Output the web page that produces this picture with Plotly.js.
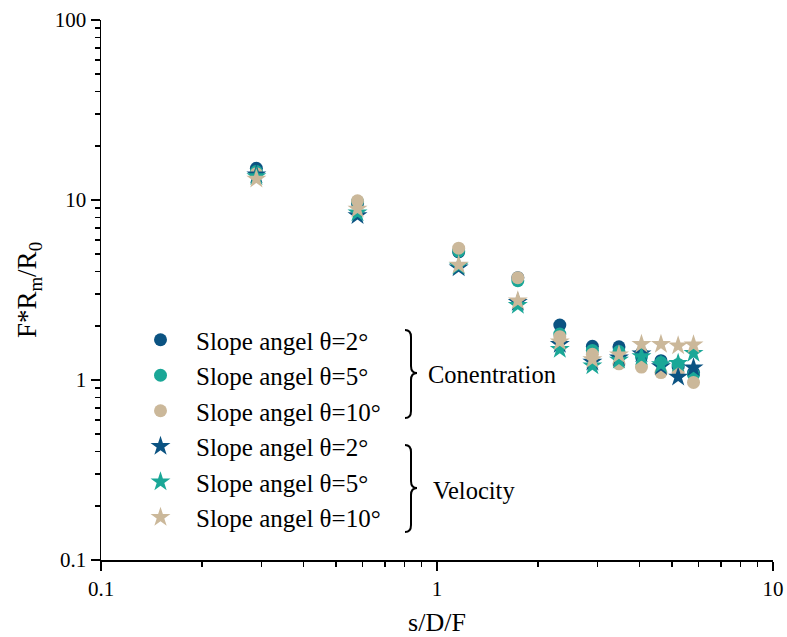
<!DOCTYPE html>
<html>
<head>
<meta charset="utf-8">
<script src="https://cdn.plot.ly/plotly-3.0.1.min.js"></script>
<style>html,body{margin:0;padding:0;background:#fff;}#chart{width:787px;height:637px;}</style>
</head>
<body>
<div id="chart"></div>
<script>
// s/D/F values
var xVals = [0.29, 0.58, 1.16, 1.74, 2.32, 2.90, 3.48, 4.06, 4.64, 5.22, 5.80];
// Concentration (circles)
var concTheta2  = [15.0, 9.6, 5.15, 3.70, 2.02, 1.54, 1.53, 1.41, 1.28, 1.18, 1.10];
var concTheta5  = [14.4, 9.8, 5.20, 3.56, 1.80, 1.46, 1.44, 1.34, 1.25, 1.22, 1.07];
var concTheta10 = [14.0, 9.9, 5.40, 3.70, 1.74, 1.39, 1.23, 1.18, 1.10, 1.10, 0.97];
// Velocity (stars)
var velTheta2  = [13.8, 8.2, 4.20, 2.70, 1.58, 1.26, 1.33, 1.40, 1.19, 1.04, 1.17];
var velTheta5  = [13.5, 8.5, 4.30, 2.60, 1.48, 1.20, 1.29, 1.35, 1.22, 1.24, 1.41];
var velTheta10 = [13.1, 8.9, 4.35, 2.76, 1.63, 1.30, 1.38, 1.58, 1.58, 1.55, 1.57];

var seriesNames = ['Slope angel θ=2°', 'Slope angel θ=5°', 'Slope angel θ=10°'];
var groupNames = ['Conentration', 'Velocity'];
var xTickVals = [0.1, 1, 10];
var xTickText = ['0.1', '1', '10'];
var yTickVals = [0.1, 1, 10, 100];
var yTickText = ['0.1', '1', '10', '100'];

var colors = ['#0b5382', '#1aa797', '#cbb89a'];
var FONT = "'Liberation Serif', 'Times New Roman', serif";

var concSets = [concTheta2, concTheta5, concTheta10];
var velSets = [velTheta2, velTheta5, velTheta10];
var traces = [];
concSets.forEach(function (ys, i) {
  traces.push({
    x: xVals, y: ys, type: 'scatter', mode: 'markers', name: seriesNames[i],
    marker: {symbol: 'circle', size: 13, color: colors[i], line: {width: 0}}
  });
});
velSets.forEach(function (ys, i) {
  traces.push({
    x: xVals, y: ys, type: 'scatter', mode: 'markers', name: seriesNames[i],
    marker: {symbol: 'star', size: 15, color: colors[i], line: {width: 0}}
  });
});

// plot area pixel geometry
var L = 101, R = 773, T = 20, B = 560;
function px(x) { return (x - L) / (R - L); }
function py(y) { return (B - y) / (B - T); }
function brace(xl, top, mid, bot) {
  var xm = xl + 6, xr = xl + 12, r = 7;
  return 'M' + px(xl) + ',' + py(top) +
    ' Q' + px(xm) + ',' + py(top) + ' ' + px(xm) + ',' + py(top + r) +
    ' L' + px(xm) + ',' + py(mid - r) +
    ' Q' + px(xm) + ',' + py(mid) + ' ' + px(xr) + ',' + py(mid) +
    ' Q' + px(xm) + ',' + py(mid) + ' ' + px(xm) + ',' + py(mid + r) +
    ' L' + px(xm) + ',' + py(bot - r) +
    ' Q' + px(xm) + ',' + py(bot) + ' ' + px(xl) + ',' + py(bot);
}

function minorLog(lo, hi) {
  var v = [];
  for (var e = lo; e < hi; e++) for (var d = 2; d <= 9; d++) v.push(d * Math.pow(10, e));
  return v;
}

var axisCommon = {
  type: 'log', showgrid: false, zeroline: false, showline: true,
  linecolor: '#000', linewidth: 1.5, ticks: 'outside', ticklen: 9, tickwidth: 1.5,
  tickcolor: '#000', tickmode: 'array',
  tickfont: {family: FONT, size: 21, color: '#000'}
};

var layout = {
  width: 787, height: 637,
  margin: {l: L, r: 787 - R, t: T, b: 637 - B},
  paper_bgcolor: '#fff', plot_bgcolor: '#fff',
  showlegend: true,
  font: {family: FONT, color: '#000'},
  xaxis: Object.assign({}, axisCommon, {
    range: [-1, 1], tickvals: xTickVals, ticktext: xTickText,
    minor: {tickmode: 'array', tickvals: minorLog(-1, 1), ticks: 'outside', ticklen: 5, tickwidth: 1.5, tickcolor: '#000'},
    title: {text: 's/D/F', font: {family: FONT, size: 26, color: '#000'}, standoff: 14}
  }),
  yaxis: Object.assign({}, axisCommon, {
    range: [-1, 2], tickvals: yTickVals, ticktext: yTickText,
    minor: {tickmode: 'array', tickvals: minorLog(-1, 2), ticks: 'outside', ticklen: 5, tickwidth: 1.5, tickcolor: '#000'},
    title: {text: 'F*R<sub>m</sub>/R<sub>0</sub>', font: {family: FONT, size: 27, color: '#000'}, standoff: 10}
  }),
  legend: {
    x: px(125), y: py(317), xanchor: 'left', yanchor: 'top',
    bgcolor: 'rgba(0,0,0,0)', borderwidth: 0,
    font: {family: FONT, size: 25, color: '#000'},
    itemwidth: 61, traceorder: 'normal'
  },
  shapes: [
    {type: 'path', xref: 'paper', yref: 'paper', path: brace(405, 330, 373, 418), line: {color: '#000', width: 2}},
    {type: 'path', xref: 'paper', yref: 'paper', path: brace(405, 445, 488, 532), line: {color: '#000', width: 2}}
  ],
  annotations: [
    {xref: 'paper', yref: 'paper', x: px(426), y: py(374), xanchor: 'left', yanchor: 'middle', showarrow: false,
     text: groupNames[0], font: {family: FONT, size: 24.5, color: '#000'}},
    {xref: 'paper', yref: 'paper', x: px(431), y: py(490), xanchor: 'left', yanchor: 'middle', showarrow: false,
     text: groupNames[1], font: {family: FONT, size: 24.5, color: '#000'}}
  ]
};

Plotly.newPlot('chart', traces, layout, {displayModeBar: false, staticPlot: true});
</script>
</body>
</html>
